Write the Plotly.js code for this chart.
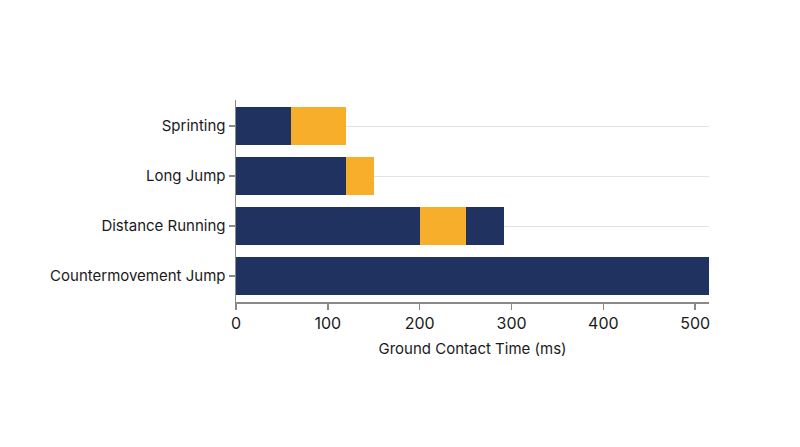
<!DOCTYPE html>
<html>
<head>
<meta charset="utf-8">
<script src="https://cdn.plot.ly/plotly-3.0.1.min.js"></script>
<style>html,body{margin:0;padding:0;background:#fff;}#chart{width:800px;height:447px;}</style>
</head>
<body>
<div id="chart"></div>
<script>
// Categories listed bottom-to-top
const categories = ['Countermovement Jump', 'Distance Running', 'Long Jump', 'Sprinting'];
// Segment lengths (ms)
const phase1 = [515, 200, 120, 60];   // navy
const phase2 = [0, 50, 30, 60];       // orange
const phase3 = [0, 42, 0, 0];         // navy
const xTicks = [0, 100, 200, 300, 400, 500];

const navy = '#1f3260';
const orange = '#f7ae2a';

const mk = (vals, color) => ({
  type: 'bar', orientation: 'h', y: categories, x: vals,
  marker: {color: color, line: {width: 0}}, width: 0.76,
  hoverinfo: 'x+y', showlegend: false
});

const data = [mk(phase1, navy), mk(phase2, orange), mk(phase3, navy)];

const layout = {
  width: 800, height: 447,
  margin: {l: 236, r: 91, t: 100, b: 145},
  barmode: 'stack',
  paper_bgcolor: '#fff', plot_bgcolor: '#fff',
  font: {family: 'Inter, "Noto Sans", sans-serif', size: 15, color: '#1a1a1a'},
  xaxis: {
    range: [0, 515], tickvals: xTicks, ticktext: xTicks.map(String),
    showgrid: false, zeroline: false,
    showline: true, linecolor: '#8a8a8a', linewidth: 1.5,
    ticks: 'outside', ticklen: 6, tickcolor: '#8a8a8a', tickwidth: 1.5,
    tickfont: {size: 16, color: '#1a1a1a'},
    title: {text: 'Ground Contact Time (ms)', font: {size: 15, color: '#1a1a1a'}, standoff: 12}
  },
  yaxis: {
    type: 'category', categoryorder: 'array', categoryarray: categories,
    range: [-0.52, 3.52],
    showgrid: true, gridcolor: '#e2e2e2', gridwidth: 1,
    zeroline: false,
    showline: true, linecolor: '#8a8a8a', linewidth: 1.5,
    ticks: 'outside', ticklen: 6, tickcolor: '#8a8a8a', tickwidth: 1.5,
    tickfont: {size: 15, color: '#1a1a1a'}
  }
};

Plotly.newPlot('chart', data, layout, {displayModeBar: false, staticPlot: true});
</script>
</body>
</html>
